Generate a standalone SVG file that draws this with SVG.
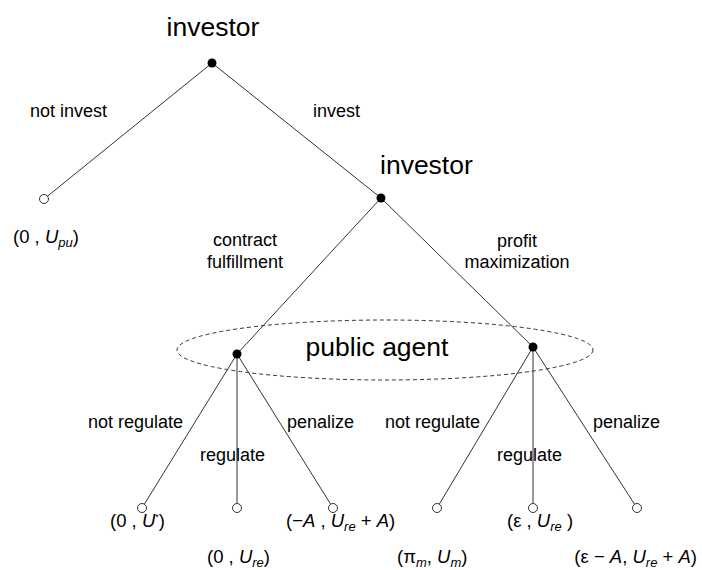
<svg xmlns="http://www.w3.org/2000/svg" width="702" height="570" viewBox="0 0 702 570">
<style>
text{font-family:"Liberation Sans",Arial,sans-serif;fill:#000}
.title{font-size:26.5px}
.lbl{font-size:18px}
.pay{font-size:18.5px}
.i{font-style:italic}
.sub{font-size:13px;font-style:italic}
.edge{stroke:#333;stroke-width:1;fill:none}
.dec{fill:#000}
.leaf{fill:#fff;stroke:#333;stroke-width:1}
</style>
<rect width="702" height="570" fill="#fff"/>
<g id="connectors">
<line class="edge" x1="212" y1="63" x2="44" y2="199"/>
<line class="edge" x1="212" y1="63" x2="381" y2="198"/>
<line class="edge" x1="381" y1="198" x2="237" y2="354"/>
<line class="edge" x1="381" y1="198" x2="533" y2="347"/>
<line class="edge" x1="237" y1="354" x2="142" y2="508"/>
<line class="edge" x1="237" y1="354" x2="237" y2="508"/>
<line class="edge" x1="237" y1="354" x2="333" y2="508"/>
<line class="edge" x1="533" y1="347" x2="437" y2="508"/>
<line class="edge" x1="533" y1="347" x2="533" y2="508"/>
<line class="edge" x1="533" y1="347" x2="637" y2="508"/>
</g>
<g id="info-set">
<ellipse cx="385" cy="350" rx="208" ry="30" fill="none" stroke="#333" stroke-width="1" stroke-dasharray="4 3"/>
<text class="title" x="377" y="356" text-anchor="middle">public agent</text>
</g>
<g id="edge-labels">
<text class="lbl" x="30" y="117">not invest</text>
<text class="lbl" x="313" y="117">invest</text>
<text class="lbl" x="245" y="246" text-anchor="middle">contract</text>
<text class="lbl" x="245" y="268" text-anchor="middle">fulfillment</text>
<text class="lbl" x="517" y="247" text-anchor="middle">profit</text>
<text class="lbl" x="517" y="268" text-anchor="middle">maximization</text>
<text class="lbl" x="88" y="428">not regulate</text>
<text class="lbl" x="200" y="461">regulate</text>
<text class="lbl" x="287" y="428">penalize</text>
<text class="lbl" x="385" y="428">not regulate</text>
<text class="lbl" x="497" y="461">regulate</text>
<text class="lbl" x="593" y="428">penalize</text>
</g>
<g id="root">
<circle class="dec" cx="212" cy="63" r="4.5"/>
<text class="title" x="213" y="36" text-anchor="middle">investor</text>
</g>
<g id="leaf-not-invest">
<circle class="leaf" cx="44" cy="199" r="4.5"/>
<text class="pay" x="13" y="243">(0 , <tspan class="i">U</tspan><tspan class="sub" dy="4">pu</tspan><tspan dy="-4">)</tspan></text>
</g>
<g id="investor2">
<circle class="dec" cx="381" cy="198" r="4.5"/>
<text class="title" x="380" y="174">investor</text>
</g>
<g id="pa-left">
<circle class="dec" cx="237" cy="354" r="4.5"/>
</g>
<g id="pa-right">
<circle class="dec" cx="533" cy="347" r="4.5"/>
</g>
<g id="leaf1">
<circle class="leaf" cx="142" cy="508" r="4.5"/>
<text class="pay" x="110" y="527">(0 , <tspan class="i">U</tspan><tspan font-size="9" dy="-7">*</tspan><tspan dy="7">)</tspan></text>
</g>
<g id="leaf2">
<circle class="leaf" cx="237" cy="508" r="4.5"/>
<text class="pay" x="207" y="563">(0 , <tspan class="i">U</tspan><tspan class="sub" dy="4">re</tspan><tspan dy="-4">)</tspan></text>
</g>
<g id="leaf3">
<circle class="leaf" cx="333" cy="508" r="4.5"/>
<text class="pay" x="286" y="527">(−<tspan class="i">A</tspan> , <tspan class="i">U</tspan><tspan class="sub" dy="4">re</tspan><tspan dy="-4"> + </tspan><tspan class="i">A</tspan>)</text>
</g>
<g id="leaf4">
<circle class="leaf" cx="437" cy="508" r="4.5"/>
<text class="pay" x="397" y="563">(π<tspan class="sub" dy="4">m</tspan><tspan dy="-4">, </tspan><tspan class="i">U</tspan><tspan class="sub" dy="4">m</tspan><tspan dy="-4">)</tspan></text>
</g>
<g id="leaf5">
<circle class="leaf" cx="533" cy="508" r="4.5"/>
<text class="pay" x="507" y="527">(ε , <tspan class="i">U</tspan><tspan class="sub" dy="4">re</tspan><tspan dy="-4"> )</tspan></text>
</g>
<g id="leaf6">
<circle class="leaf" cx="637" cy="508" r="4.5"/>
<text class="pay" x="697" y="563" text-anchor="end">(ε − <tspan class="i">A</tspan>, <tspan class="i">U</tspan><tspan class="sub" dy="4">re</tspan><tspan dy="-4"> + </tspan><tspan class="i">A</tspan>)</text>
</g>
</svg>
